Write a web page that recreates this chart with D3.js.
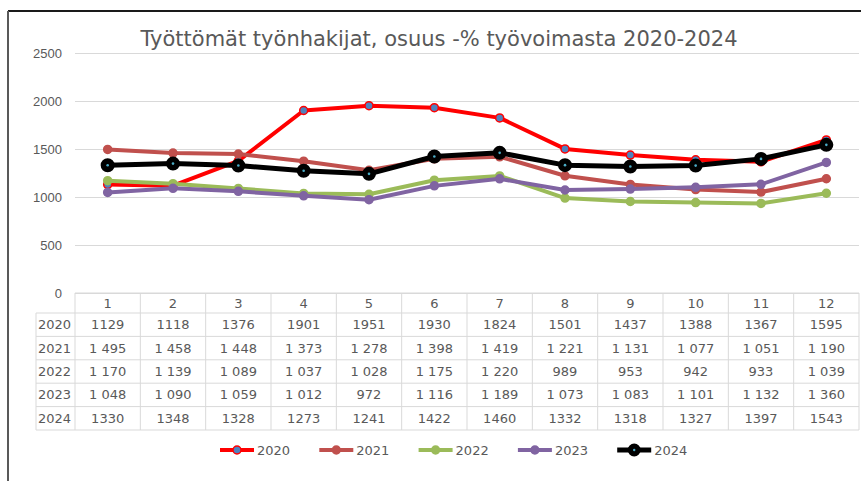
<!DOCTYPE html>
<html>
<head>
<meta charset="utf-8">
<script src="https://cdn.jsdelivr.net/npm/d3@7"></script>
<style>
  body { margin: 0; background: #fff; }
  svg { display: block; font-family: "DejaVu Sans", sans-serif; }
</style>
</head>
<body>
<div id="chart"></div>
<script>
// months and yearly series
var months = ["1","2","3","4","5","6","7","8","9","10","11","12"]
var years = ["2020","2021","2022","2023","2024"]
var v2020 = [1129,1118,1376,1901,1951,1930,1824,1501,1437,1388,1367,1595]
var v2021 = [1495,1458,1448,1373,1278,1398,1419,1221,1131,1077,1051,1190]
var v2022 = [1170,1139,1089,1037,1028,1175,1220,989,953,942,933,1039]
var v2023 = [1048,1090,1059,1012,972,1116,1189,1073,1083,1101,1132,1360]
var v2024 = [1330,1348,1328,1273,1241,1422,1460,1332,1318,1327,1397,1543]
var yTicks = [0,500,1000,1500,2000,2500]
// table shows thousands separated by space for these years
var grouped = [false,true,true,true,false]

var series = [v2020, v2021, v2022, v2023, v2024]
var lineColors = ["#ff0000","#c0504d","#9bbb59","#8064a2","#000000"]
var markerFill = ["#4f81bd","#c0504d","#9bbb59","#8064a2","#000000"]

var W = 861, H = 481
var pLeft = 75, pRight = 859, pTop = 53, pBottom = 293

const svg = d3.select("#chart").append("svg")
    .attr("width", W)
    .attr("height", H)

// frame
svg.append("line").attr("x1", 8).attr("x2", W).attr("y1", 11).attr("y2", 11)
    .attr("stroke", "#1a1a1a").attr("stroke-width", 2)
svg.append("line").attr("x1", 8).attr("x2", 8).attr("y1", 11).attr("y2", H)
    .attr("stroke", "#595959").attr("stroke-width", 2)

svg.append("text")
    .attr("x", 439).attr("y", 46)
    .attr("text-anchor", "middle")
    .style("font-size", "21px")
    .style("fill", "#595959")
    .text("Työttömät työnhakijat, osuus -% työvoimasta 2020-2024")

const x = d3.scaleBand().domain(months).range([pLeft, pRight])
const y = d3.scaleLinear().domain([0, 2500]).range([pBottom, pTop])
const cx = d => x(d) + x.bandwidth() / 2

// gridlines + labels
const yAxis = svg.append("g")
    .attr("transform", `translate(${pLeft},0)`)
    .call(d3.axisLeft(y).tickValues(yTicks).tickFormat(d3.format("d"))
        .tickSize(-(pRight - pLeft)).tickPadding(13))
yAxis.select(".domain").remove()
yAxis.selectAll(".tick line").attr("stroke", "#d9d9d9")
yAxis.selectAll(".tick text").style("font-size", "13px").style("fill", "#595959")

// lines
const line = d3.line().x((d, i) => cx(months[i])).y(d => y(d))
series.forEach((s, k) => {
    var isBlack = k == 4
    svg.append("path")
        .datum(s)
        .attr("d", line)
        .attr("fill", "none")
        .attr("stroke", lineColors[k])
        .attr("stroke-width", isBlack ? 5 : 4)
        .attr("stroke-linejoin", "round")
    svg.append("g").selectAll("circle")
        .data(s)
        .join("circle")
        .attr("cx", (d, i) => cx(months[i]))
        .attr("cy", d => y(d))
        .attr("r", isBlack ? 5.5 : 4)
        .attr("fill", markerFill[k])
        .attr("stroke", lineColors[k])
        .attr("stroke-width", isBlack ? 3 : 1.5)
    if (isBlack) {
        svg.append("g").selectAll("circle")
            .data(s)
            .join("circle")
            .attr("cx", (d, i) => cx(months[i]))
            .attr("cy", d => y(d))
            .attr("r", 1.3)
            .attr("fill", "#4bacc6")
    }
})

// data table
var headH = 20, rowH = 23.4, labelX = 36
var tbl = svg.append("g").style("font-size", "13px").style("fill", "#595959")
var gridC = "#d9d9d9"
var tableBottom = pBottom + headH + rowH * years.length

// horizontal lines
tbl.append("line").attr("x1", pLeft).attr("x2", pRight).attr("y1", pBottom).attr("y2", pBottom)
    .attr("stroke", gridC)
d3.range(years.length + 1).forEach(r => {
    var yy = pBottom + headH + r * rowH
    tbl.append("line").attr("x1", labelX).attr("x2", pRight).attr("y1", yy).attr("y2", yy)
        .attr("stroke", gridC)
})
// vertical lines
tbl.append("line").attr("x1", labelX).attr("x2", labelX).attr("y1", pBottom + headH).attr("y2", tableBottom)
    .attr("stroke", gridC)
months.forEach(m => {
    tbl.append("line").attr("x1", x(m)).attr("x2", x(m)).attr("y1", pBottom).attr("y2", tableBottom)
        .attr("stroke", gridC)
})
tbl.append("line").attr("x1", pRight).attr("x2", pRight).attr("y1", pBottom).attr("y2", tableBottom)
    .attr("stroke", gridC)

tbl.selectAll("text.head")
    .data(months)
    .join("text")
    .attr("class", "head")
    .attr("x", d => cx(d))
    .attr("y", pBottom + headH / 2)
    .attr("dy", "0.35em")
    .attr("text-anchor", "middle")
    .text(d => d)

const fmtSpace = v => v >= 1000 ? Math.floor(v / 1000) + " " + String(v % 1000).padStart(3, "0") : String(v)

years.forEach((yr, k) => {
    var yy = pBottom + headH + k * rowH + rowH / 2
    tbl.append("text").attr("x", labelX + 2).attr("y", yy).attr("dy", "0.35em").text(yr)
    tbl.append("g").selectAll("text")
        .data(series[k])
        .join("text")
        .attr("x", (d, i) => cx(months[i]))
        .attr("y", yy)
        .attr("dy", "0.35em")
        .attr("text-anchor", "middle")
        .text(d => grouped[k] ? fmtSpace(d) : String(d))
})

// legend
var legend = svg.append("g").attr("transform", "translate(220,450)")
years.forEach((yr, k) => {
    var g = legend.append("g").attr("transform", `translate(${k * 99.3},0)`)
    var isBlack = k == 4
    g.append("line").attr("x1", 0).attr("x2", 34).attr("y1", 0).attr("y2", 0)
        .attr("stroke", lineColors[k]).attr("stroke-width", isBlack ? 5 : 4)
    g.append("circle").attr("cx", 17).attr("cy", 0).attr("r", isBlack ? 5 : 4)
        .attr("fill", markerFill[k]).attr("stroke", lineColors[k]).attr("stroke-width", isBlack ? 3 : 1.5)
    if (isBlack) g.append("circle").attr("cx", 17).attr("cy", 0).attr("r", 1.2).attr("fill", "#4bacc6")
    g.append("text").attr("x", 37).attr("y", 0).attr("dy", "0.35em")
        .style("font-size", "13px").style("fill", "#595959").text(yr)
})
</script>
</body>
</html>
